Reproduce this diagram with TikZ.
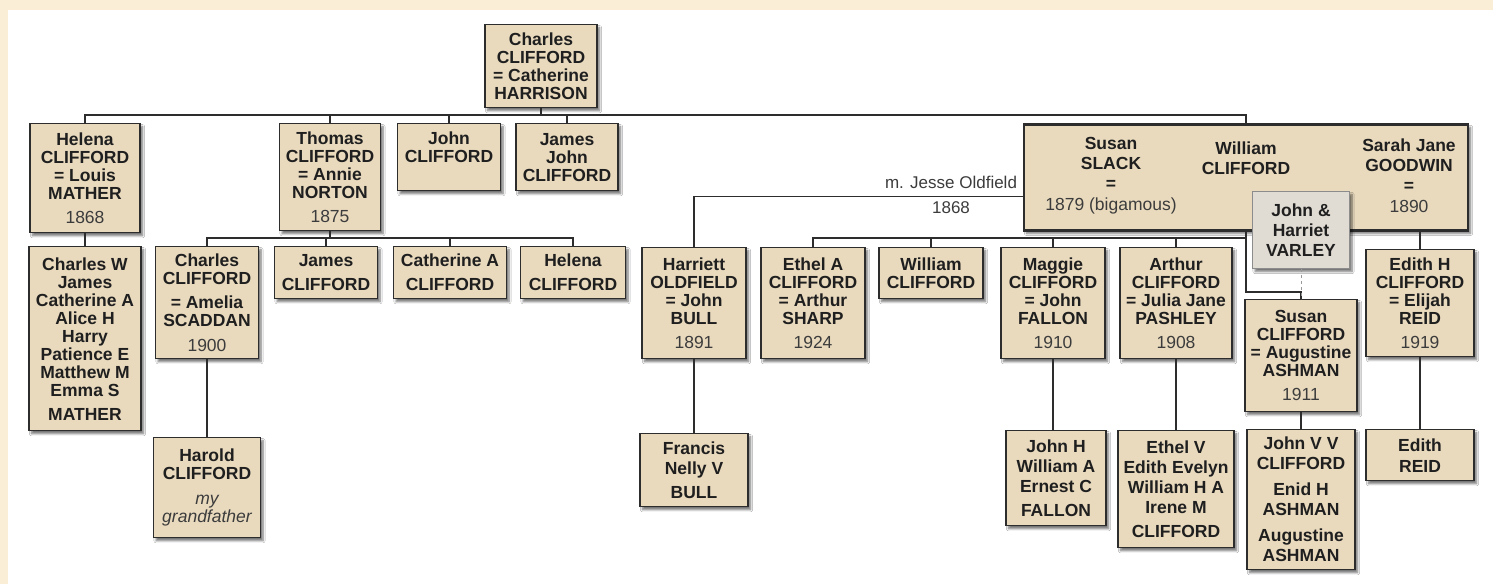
\documentclass[tikz,border=0pt]{standalone}
\usepackage{fontspec}
\setmainfont{Liberation Sans}
\usetikzlibrary{shadows.blur}
\definecolor{boxc}{RGB}{233,218,190}
\definecolor{varc}{RGB}{225,220,211}
\definecolor{linec}{RGB}{45,45,45}
\definecolor{yrc}{RGB}{60,60,60}
\definecolor{edgec}{RGB}{251,238,214}
\newcommand{\yearof}[1]{{\mdseries\color{yrc}#1}}
\newcommand{\mynote}[1]{{\mdseries\itshape\color{yrc}#1}}
\begin{document}
\begin{tikzpicture}[x=1pt,y=-1pt,
  pbox/.style={draw=linec,fill=boxc,line width=1.4pt,anchor=north,align=center,inner sep=2pt,
    text=black!88,font=\bfseries\fontsize{17.5}{18}\selectfont,
    blur shadow={shadow xshift=2.5pt,shadow yshift=-3pt,shadow blur steps=6,shadow opacity=55}},
  bname/.style={align=center,text=black!88,font=\bfseries\fontsize{17.5}{20}\selectfont},
  lbl/.style={text=yrc,font=\fontsize{17}{18}\selectfont},
  link/.style={draw=linec,line width=1.4pt}]
 \useasboundingbox (0,0) rectangle (1493,584);
 \fill[white] (0,0) rectangle (1493,584);
 \fill[edgec] (0,0) rectangle (1493,10);
 \fill[edgec] (0,0) rectangle (8,584);

 \node[pbox,minimum width=112pt,minimum height=83pt] (root) at (541,24) {Charles\\CLIFFORD\\= Catherine\\HARRISON};

 \node[pbox,minimum width=110pt,minimum height=109pt] (helena) at (85,123) {Helena\\CLIFFORD\\= Louis\\MATHER\\[6pt]\yearof{1868}};
 \node[pbox,minimum width=101pt,minimum height=107pt] (thomas) at (330,123) {Thomas\\CLIFFORD\\= Annie\\NORTON\\[6pt]\yearof{1875}};
 \node[pbox,minimum width=103pt,minimum height=67pt] (john) at (449,123) {John\\CLIFFORD\\[-4pt]\strut};
 \node[pbox,minimum width=102pt,minimum height=67pt] (jamesj) at (567,123) {James\\John\\CLIFFORD};
 \node[pbox,line width=2.8pt,minimum width=444pt,minimum height=106pt] (william) at (1246,123) {};
 \node[bname] (slack) at (1111,176) {Susan\\SLACK\\=\\[1pt]\yearof{1879 (bigamous)}};
 \node[bname] (wname) at (1246,158) {William\\CLIFFORD};
 \node[bname] (goodwin) at (1409,176) {Sarah Jane\\GOODWIN\\=\\[1pt]\yearof{1890}};
 \node[pbox,fill=varc,draw=black!45,line width=1pt,minimum width=97pt,minimum height=77pt,
   font=\bfseries\fontsize{17.5}{20}\selectfont] (varley) at (1301,191) {John \&\\Harriet\\VARLEY};
 \node[lbl] (mjesse) at (951,182) {m. Jesse Oldfield};
 \node[lbl] (myear) at (951,208) {1868};

 \node[pbox,minimum width=112pt,minimum height=184pt] (charlesw) at (85,246) {Charles W\\James\\Catherine A\\Alice H\\Harry\\Patience E\\Matthew M\\Emma S\\[6pt]MATHER};
 \node[pbox,minimum width=103pt,minimum height=112pt] (charles) at (207,246) {Charles\\CLIFFORD\\[6pt]= Amelia\\SCADDAN\\[7pt]\yearof{1900}};
 \node[pbox,minimum width=103pt,minimum height=52pt] (james) at (326,246) {James\\[6pt]CLIFFORD};
 \node[pbox,minimum width=113pt,minimum height=52pt] (catherine) at (450,246) {Catherine A\\[6pt]CLIFFORD};
 \node[pbox,minimum width=105pt,minimum height=52pt] (helenac) at (573,246) {Helena\\[6pt]CLIFFORD};
 \node[pbox,minimum width=104pt,minimum height=111pt] (harriett) at (694,247) {Harriett\\OLDFIELD\\= John\\BULL\\[6pt]\yearof{1891}};
 \node[pbox,minimum width=104pt,minimum height=111pt] (ethel) at (813,247) {Ethel A\\CLIFFORD\\= Arthur\\SHARP\\[6pt]\yearof{1924}};
 \node[pbox,minimum width=104pt,minimum height=51pt] (williamc) at (931,247) {William\\CLIFFORD};
 \node[pbox,minimum width=104pt,minimum height=111pt] (maggie) at (1053,247) {Maggie\\CLIFFORD\\= John\\FALLON\\[6pt]\yearof{1910}};
 \node[pbox,minimum width=112pt,minimum height=111pt] (arthur) at (1176,247) {Arthur\\CLIFFORD\\= Julia Jane\\PASHLEY\\[6pt]\yearof{1908}};
 \node[pbox,minimum width=112pt,minimum height=112pt] (susan) at (1301,299) {Susan\\CLIFFORD\\= Augustine\\ASHMAN\\[6pt]\yearof{1911}};
 \node[pbox,minimum width=108pt,minimum height=107pt] (edithh) at (1420,249) {Edith H\\CLIFFORD\\= Elijah\\REID\\[6pt]\yearof{1919}};

 \node[pbox,minimum width=107pt,minimum height=100pt] (harold) at (207,437) {Harold\\CLIFFORD\\[7pt]\mynote{my}\\\mynote{grandfather}};
 \node[pbox,minimum width=108pt,minimum height=73pt] (francis) at (694,433) {Francis\\[2pt]Nelly V\\[6pt]BULL};
 \node[pbox,minimum width=100pt,minimum height=95pt] (johnh) at (1056,430) {John H\\[2pt]William A\\[2pt]Ernest C\\[6pt]FALLON};
 \node[pbox,minimum width=116pt,minimum height=117pt] (ethelv) at (1176,430) {Ethel V\\[2pt]Edith Evelyn\\[2pt]William H A\\[2pt]Irene M\\[6pt]CLIFFORD};
 \node[pbox,minimum width=108pt,minimum height=140pt] (johnvv) at (1301,429) {John V V\\[2pt]CLIFFORD\\[8pt]Enid H\\[2pt]ASHMAN\\[8pt]Augustine\\[2pt]ASHMAN};
 \node[pbox,minimum width=108pt,minimum height=51pt] (edith) at (1420,429) {Edith\\[3pt]REID};

 \coordinate (rootbar) at (541,115);
 \draw[link] (root.south) -- (rootbar);
 \draw[link] (helena.north) |- (rootbar) -| (william.north);
 \foreach \n in {thomas,john,jamesj} \draw[link] (\n.north) -- (\n.north |- rootbar);

 \coordinate (tbar) at (330,238);
 \draw[link] (thomas.south) -- (tbar);
 \draw[link] (charles.north) |- (tbar) -| (helenac.north);
 \foreach \n in {james,catherine} \draw[link] (\n.north) -- (\n.north |- tbar);

 \draw[link] (william.west) ++(0,19) -| (harriett.north);
 \coordinate (wbar) at (1246,238);
 \draw[link] (william.south) -- (wbar) -| (ethel.north);
 \foreach \n in {williamc,maggie,arthur} \draw[link] (\n.north) -- (\n.north |- wbar);
 \draw[link] (wbar) -- ++(0,54) -| (susan.north);
 \draw[link,dashed,draw=black!40,line width=1pt] (varley.south) -- (varley.south |- susan.north);
 \draw[link] (edithh.north) -- (edithh.north |- william.south);

 \draw[link] (helena.south) -- (charlesw.north);
 \draw[link] (charles.south) -- (harold.north);
 \draw[link] (harriett.south) -- (francis.north);
 \draw[link] (maggie.south) -- (maggie.south |- johnh.north);
 \draw[link] (arthur.south) -- (ethelv.north);
 \draw[link] (susan.south) -- (johnvv.north);
 \draw[link] (edithh.south) -- (edith.north);
\end{tikzpicture}
\end{document}
